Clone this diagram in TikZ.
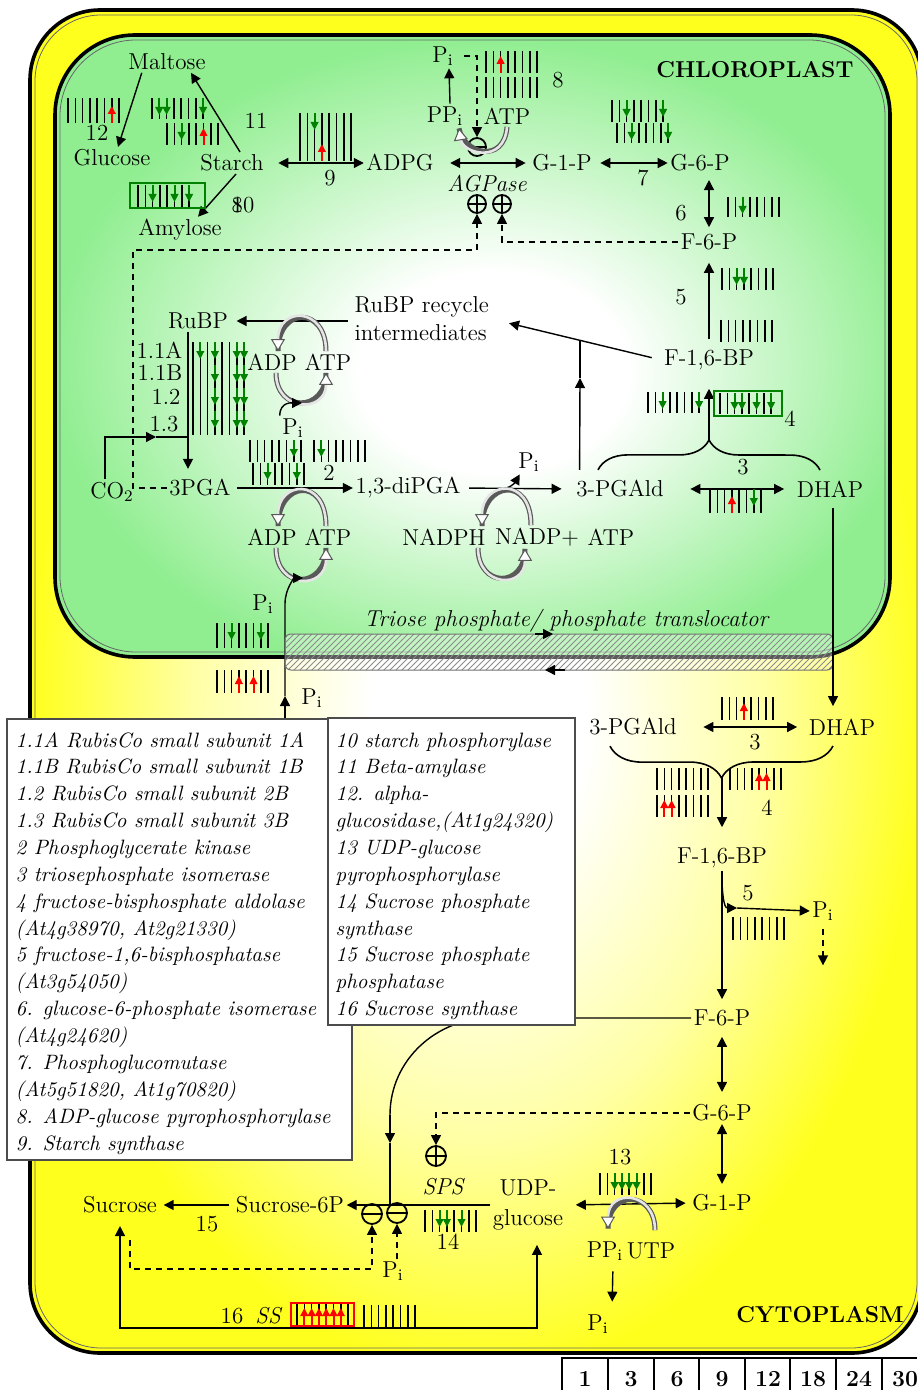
\documentclass[tikz,border=0pt]{standalone}
\usepackage{tikz}
\usetikzlibrary{arrows.meta, decorations.pathreplacing, patterns}

\definecolor{chlgreen}{RGB}{144,238,144}
\definecolor{cytyellow}{RGB}{255,255,30}
\definecolor{upred}{RGB}{255,0,0}
\definecolor{dngreen}{RGB}{0,130,0}

\pgfdeclareradialshading{chlshade}{\pgfpoint{1.5bp}{-2.5bp}}{color(0bp)=(white); color(8bp)=(white); color(17bp)=(chlgreen!50!white); color(26bp)=(chlgreen); color(50bp)=(chlgreen)}
\pgfdeclareradialshading{cytshade}{\pgfpoint{0.2bp}{-1.5bp}}{color(0bp)=(white); color(6bp)=(white); color(16bp)=(cytyellow!40!white); color(25bp)=(cytyellow); color(50bp)=(cytyellow)}

\newcommand{\metfont}{\fontsize{11.5}{14}\selectfont}
\newcommand{\legfont}{\fontsize{10.4}{12}\selectfont\itshape}

% expression bars: x, top y, height, pattern (0 plain, 1 green down, 2 red up)
\newcommand{\exprbars}[4]{%
  \foreach \s [count=\k from 0] in {#4} {
    \draw[barln] ({#1+7.3*\k},{#2}) -- ++(0,#3);
    \ifnum\s=1 \draw[dnarr] ({#1+7.3*\k},{#2}) -- ++(0,17); \fi
    \ifnum\s=2 \draw[uparr] ({#1+7.3*\k},{#2+#3}) -- ++(0,-17); \fi
  }}

\begin{document}
\begin{tikzpicture}[x=0.5pt, y=-0.5pt, line width=0.7pt,
  arr/.style={-{Triangle[length=5pt,width=5pt]}, line width=0.7pt},
  darr/.style={{Triangle[length=5pt,width=5pt]}-{Triangle[length=5pt,width=5pt]}, line width=0.7pt},
  dsh/.style={dash pattern=on 3pt off 2.5pt, line width=0.6pt},
  met/.style={font=\metfont, inner sep=1pt},
  barln/.style={line width=0.75pt},
  dnarr/.style={dngreen, line width=1pt, -{Triangle[length=4pt,width=3.8pt]}},
  uparr/.style={upred, line width=1pt, -{Triangle[length=4pt,width=3.8pt]}},
  tube/.style={line width=1.3pt, draw=gray!20,
    preaction={draw=black!65, line width=2.5pt, arrows=-},
    -{Triangle[length=6pt, width=7pt, fill=white, color=black!65, line width=0.5pt]}},
  plusc/.style={circle, draw, line width=0.9pt, minimum size=9pt, inner sep=0pt,
    path picture={\draw[line width=0.9pt] (path picture bounding box.north) -- (path picture bounding box.south)
      (path picture bounding box.west) -- (path picture bounding box.east);}},
  minusc/.style={circle, draw, line width=0.9pt, minimum size=9pt, inner sep=0pt,
    path picture={\draw[line width=0.9pt] (path picture bounding box.west) -- (path picture bounding box.east);}},
  leg/.style={font=\legfont, inner sep=0pt, anchor=base west},
]
\useasboundingbox (0,0) rectangle (917,1390);
\fill[white] (0,0) rectangle (917,1390);

%% Cell and chloroplast
\shade[shading=cytshade, rounded corners=35pt] (30,10) rectangle (922,1353);
\draw[line width=1.8pt, rounded corners=35pt] (30,10) rectangle (922,1353);
\draw[line width=0.4pt, black!60, rounded corners=33pt] (35,15) rectangle (917,1348);
\shade[shading=chlshade, rounded corners=40pt] (55,35) rectangle (890,657);
\draw[line width=1.8pt, rounded corners=40pt] (55,35) rectangle (890,657);
\draw[line width=0.4pt, black!60, rounded corners=38pt] (60,40) rectangle (885,652);

%% Time points
\draw[line width=0.8pt] (562,1390) -- (562,1358) -- (917,1358);
\foreach \xx in {608,654,699,745,790,836,882} \draw[line width=0.8pt] (\xx,1358) -- (\xx,1390);
\foreach \xx/\tp [count=\c] in {585/1, 631/3, 677/6, 722/9, 768/12, 813/18, 859/24, 905/30}
  \node[met, font=\metfont\bfseries, anchor=north] (tp\c) at (\xx,1369) {\tp};

%% Starch breakdown
\node[met] (maltose) at (167,62) {Maltose};
\node[met] (glucose) at (112,158) {Glucose};
\node[met] (starch) at (232,163) {Starch};
\node[met] (amylose) at (180,230) {Amylose};
\node[met] (lb12) at (97,133) {12};
\node[met] (lb11) at (256,121) {11};
\node[met] (lb10) at (243,205) {\makebox[0pt][l]{8}10};
\node[met] (lb9) at (330,178) {9};
\draw[arr] ([xshift=8pt]maltose.south west) -- ([xshift=3pt]glucose.north);
\draw[arr] ([xshift=4pt]starch.north) -- ([xshift=12pt]maltose.south);
\draw[arr] ([xshift=2pt]starch.south) -- ([xshift=9pt]amylose.north);
\exprbars{68}{98}{25}{0,0,0,0,0,0,2,0}
\exprbars{152}{98}{21}{0,1,1,0,0,0,0,1}
\exprbars{167}{123}{22}{0,0,1,0,0,2,0,0}
\exprbars{138}{185}{22}{0,0,1,0,0,1,0,1}
\draw[dngreen, line width=0.8pt] (130,183) rectangle (205,208);

%% ADPG and AGPase
\node[met] (adpg) at (400,163) {ADPG};
\node[met] (g1p) at (562,163) {G-1-P};
\node[met] (g6p) at (700,163) {G-6-P};
\node[met] (f6p) at (709,242) {F-6-P};
\node[met] (piA) at (443,56) {P\textsubscript{i}};
\node[met] (ppiA) at (445,116) {PP\textsubscript{i}};
\node[met] (atpA) at (507,116) {ATP};
\node[minusc] (inhA) at (477,147) {};
\node[met, font=\metfont\itshape] (agpase) at (487,184) {AGPase};
\node[plusc] (actA) at (477,204) {};
\node[plusc] (actB) at (502,204) {};
\node[met] (lb8) at (558,80) {8};
\node[met] (lb7) at (643,178) {7};
\node[met] (lb6) at (681,213) {6};
\draw[darr, shorten <=6pt] (starch.east) -- (adpg.west);
\exprbars{300}{113}{48}{0,0,1,2,0,0,0,0}
\draw[darr, shorten <=7pt, shorten >=2pt] (adpg.east) -- (g1p.west);
\draw[darr, shorten <=3pt] (g1p.east) -- (g6p.west);
\draw[darr, shorten <=3pt, shorten >=2pt] ([xshift=4.5pt]g6p.south) -- (f6p.north);
\draw[arr] ([xshift=2.5pt]ppiA.north) -- ([xshift=3pt]piA.south);
\draw[dsh, arr, shorten <=4pt] (piA.east) -| (inhA.north);
\draw[tube] (atpA.south) .. controls +(-3,38) and +(4,25) .. ([xshift=7pt]ppiA.south);
\exprbars{486}{51}{22}{0,0,2,0,0,0,0,0}
\exprbars{486}{77}{21}{0,0,0,0,0,0,0,0}
\exprbars{612}{100}{22}{0,0,1,0,0,0,0,1}
\exprbars{617}{123}{20}{0,0,1,0,0,0,0,1}
\exprbars{728}{197}{20}{0,0,1,0,0,0,0,0}
\draw[dsh, arr] (f6p.west) -| (actB.south);
\node[met, font=\metfont\bfseries] (chloro) at (755,70) {CHLOROPLAST};

%% Calvin cycle
\node[met] (rubp) at (198,321) {RuBP};
\node[met, align=left, anchor=west] (rubpri) at (352,319) {RuBP recycle\\intermediates};
\node[met] (f16bp) at (709,360) {F-1,6-BP};
\node[met] (lb5) at (681,297) {5};
\draw[arr, shorten <=4pt, shorten >=5pt] (f16bp.north) -- (f6p.south);
\exprbars{722}{268}{22}{0,0,1,1,0,0,0,0}
\exprbars{721}{320}{22}{0,0,0,0,0,0,0,0}
\draw[arr, shorten <=5pt, shorten >=9pt] (f16bp.west) -- (rubpri.east);
\draw[arr, shorten >=3pt] ([xshift=-2pt]rubpri.west |- rubp.east) -- (rubp.east);
\node[met] (adpR) at (272,362) {ADP};
\node[met] (atpR) at (328,362) {ATP};
\draw[tube] ([xshift=-1pt]atpR.north) .. controls +(0,-45) and +(0,-45) .. ([xshift=3pt]adpR.north);
\draw[tube] ([xshift=2pt]adpR.south) .. controls +(0,40) and +(0,40) .. ([xshift=-1pt]atpR.south);
\node[met] (piR) at (293,428) {P\textsubscript{i}};
\coordinate (tubeR) at (302,403);
\draw[arr] (piR.north west) .. controls +(0,-15) and +(-8,0) .. (tubeR);
\node[met, anchor=east] (e11a) at (185,350) {1.1A};
\node[met, anchor=east] (e11b) at (185,373) {1.1B};
\node[met, anchor=east] (e12) at (183,397) {1.2};
\node[met, anchor=east] (e13) at (181,424) {1.3};
\exprbars{193}{342}{23}{0,1,0,1,0,0,1,1}
\exprbars{193}{365}{23}{0,0,0,1,0,0,1,1}
\exprbars{193}{388}{23}{0,0,0,1,0,0,1,1}
\exprbars{193}{411}{24}{0,0,0,1,0,0,1,1}
\node[met] (co2) at (112,492) {CO\textsubscript{2}};
\node[met] (pga) at (200,488) {3PGA};
\coordinate (cmid) at (156,437);
\coordinate (cj) at (188,437);
\draw[arr] ([xshift=-3.5pt]co2.north) |- (cmid);
\draw (cmid) -- (cj);
\draw[arr, shorten >=4pt] ([xshift=-5pt]rubp.south) -- ([xshift=-6pt]pga.north);
\coordinate (pgaup) at (133,250);
\draw[dsh, arr] (pga.west) -| (pgaup) -| (actA.south);

%% 3PGA to 3-PGAld
\node[met] (dipga) at (408,488) {1,3-diPGA};
\node[met] (lb2) at (329,473) {2};
\draw[arr, shorten <=2pt] (pga.east) -- (dipga.west);
\exprbars{250}{440}{22}{0,0,0,0,0,0,1,0}
\exprbars{314}{440}{22}{0,1,0,0,0,0,0,0}
\exprbars{253}{463}{22}{0,0,1,0,0,0,1,0}
\node[met] (adp2) at (272,537) {ADP};
\node[met] (atp2) at (328,537) {ATP};
\draw[tube] ([xshift=-1pt]atp2.north) .. controls +(0,-50) and +(0,-45) .. ([xshift=3pt]adp2.north);
\draw[tube] ([xshift=2pt]adp2.south) .. controls +(0,42) and +(0,42) .. ([xshift=-1pt]atp2.south);
\node[met] (piL) at (263,604) {P\textsubscript{i}};
\node[met] (piB) at (312,698) {P\textsubscript{i}};
\coordinate (pjb) at (285,718);
\coordinate (pjm) at (285,696);
\coordinate (tube2) at (303,578);
\draw[arr] (pjb) -- (pjm);
\draw[arr] (pjm) -- ++(0,-92) .. controls +(0,-16) and +(-8,0) .. (tube2);
\exprbars{217}{623}{25}{0,0,1,0,0,0,1,0}
\exprbars{217}{670}{23}{0,0,0,2,0,2,0,0}
\node[met] (pi3) at (529,462) {P\textsubscript{i}};
\node[met] (pgald) at (620,489) {3-PGAld};
\draw[arr, shorten <=3pt, shorten >=6pt] (dipga.east) -- (pgald.west);
\coordinate (nj) at (500,489);
\draw[arr] (nj) to[out=0, in=240] ([xshift=2pt]pi3.south west);
\node[met] (nadph) at (444,537) {NADPH};
\node[met] (nadp) at (537,537) {NADP+};
\node[met] (atp3) at (611,537) {ATP};
\draw[tube] ([xshift=-3pt]nadp.north) .. controls +(0,-50) and +(0,-45) .. ([xshift=19pt]nadph.north);
\draw[tube] ([xshift=17pt]nadph.south) .. controls +(0,40) and +(0,40) .. ([xshift=-6pt]nadp.south);

%% Triose phosphates
\node[met] (dhap) at (830,489) {DHAP};
\node[met] (lb3) at (743,467) {3};
\node[met] (lb4) at (790,419) {4};
\draw[darr, shorten <=12pt, shorten >=5pt] (pgald.east) -- (dhap.west);
\exprbars{710}{489}{24}{0,0,0,2,0,0,1,0}
\draw[decorate, decoration={brace, amplitude=15pt}, line width=0.8pt]
  ([xshift=-11pt,yshift=4pt]pgald.north) -- ([xshift=-5pt,yshift=4pt]dhap.north);
\coordinate (btip) at (709,440);
\draw[arr, shorten >=8pt] (btip) -- (f16bp.south);
\exprbars{648}{392}{21}{0,0,1,0,0,0,0,1}
\exprbars{720}{393}{21}{0,0,1,1,0,1,0,1}
\draw[dngreen, line width=0.8pt] (714,391) rectangle (782,416);
\coordinate (rmid) at (580,378);
\coordinate (rj) at (580,341);
\draw[arr] ([xshift=3pt,yshift=4pt]pgald.north west) -- (rmid);
\draw (rmid) -- (rj);

%% Translocator
\node[met, font=\metfont\itshape] (tpt) at (566,621) {Triose phosphate/ phosphate translocator};
\fill[white, opacity=0.35, rounded corners=3pt] (285,634) rectangle (833,670);
\fill[pattern=north east lines, pattern color=black!45, rounded corners=3pt] (285,634) rectangle (833,670);
\draw[black!55, line width=0.5pt, rounded corners=3pt] (285,634) rectangle (833,670);
\draw[arr] (535,634) -- (553,634);
\draw[arr] (565,670) -- (545,670);

%% Cytoplasm: triose to hexose
\node[met] (pgaldC) at (633,727) {3-PGAld};
\node[met] (dhapC) at (842,727) {DHAP};
\node[met] (lb3C) at (755,742) {3};
\node[met] (lb4C) at (767,808) {4};
\draw[arr, shorten <=4pt, shorten >=5pt] ([xshift=1.5pt]dhap.south) -- ([xshift=-4.5pt]dhapC.north);
\draw[darr, shorten <=12pt, shorten >=4.5pt] (pgaldC.east) -- (dhapC.west);
\exprbars{722}{697}{23}{0,0,0,2,0,0,0,0}
\draw[decorate, decoration={brace, amplitude=16pt}, line width=0.8pt]
  ([xshift=-4.5pt,yshift=-4pt]dhapC.south) -- ([xshift=-11.5pt,yshift=-4pt]pgaldC.south);
\coordinate (btipC) at (722,777);
\node[met] (f16bpC) at (722,858) {F-1,6-BP};
\draw[arr, shorten >=9pt] (btipC) -- (f16bpC.north);
\exprbars{657}{768}{22}{0,0,0,0,0,0,0,0}
\exprbars{657}{795}{22}{0,2,2,0,0,0,0,0}
\exprbars{730}{768}{22}{0,0,0,0,2,2,0,0}
\node[met] (f6pC) at (722,1018) {F-6-P};
\draw[arr, shorten >=4pt] (f16bpC.south) -- (f6pC.north);
\node[met] (lb5C) at (748,893) {5};
\node[met] (piC) at (823,911) {P\textsubscript{i}};
\coordinate (bj) at (737,908);
\draw[arr] ([yshift=-3pt]f16bpC.south) to[out=-90, in=180] (bj);
\draw[arr] (bj) -- (piC.west);
\exprbars{733}{917}{23}{0,0,0,0,0,0,0,0}
\draw[dsh, arr, shorten <=3pt] (piC.south) -- ++(0,42);
\node[met] (g6pC) at (722,1113) {G-6-P};
\node[met] (g1pC) at (722,1203) {G-1-P};
\draw[darr, shorten <=4pt, shorten >=5pt] (f6pC.south) -- (g6pC.north);
\draw[darr, shorten >=4pt] (g6pC.south) -- (g1pC.north);

%% Sucrose synthesis
\node[met, align=center, font=\fontsize{11.5}{15}\selectfont] (udpg) at (528,1205) {UDP-\\glucose};
\draw[darr, shorten <=2pt, shorten >=5pt] (g1pC.west) -- (udpg.east);
\node[met] (lb13) at (620,1157) {13};
\exprbars{600}{1173}{22}{0,0,1,1,1,1,0,0}
\node[met] (ppiC) at (605,1251) {PP\textsubscript{i}};
\node[met] (utp) at (651,1251) {UTP};
\draw[tube] ([xshift=2pt,yshift=5pt]utp.north) .. controls +(0,-40) and +(0,-40) .. ([xshift=1.5pt,yshift=5pt]ppiC.north);
\node[met] (piC2) at (598,1324) {P\textsubscript{i}};
\draw[arr, shorten <=4pt, shorten >=5pt] ([xshift=4pt]ppiC.south) -- ([xshift=7pt]piC2.north);
\node[met, font=\metfont\itshape] (sps) at (443,1187) {SPS};
\node[plusc, minimum size=10pt] (actS) at (436,1156) {};
\draw[dsh, arr] (g6pC.west) -| (actS.north);
\node[met] (suc6p) at (290,1205) {Sucrose-6P};
\node[met] (sucrose) at (120,1205) {Sucrose};
\node[met] (lb15) at (207,1224) {15};
\node[met] (lb14) at (448,1242) {14};
\draw[arr] (udpg.west) -- (suc6p.east);
\draw[arr, shorten <=2pt, shorten >=2pt] (suc6p.west) -- (sucrose.east);
\exprbars{425}{1210}{22}{0,0,1,1,0,1,0,0}
\node[minusc, minimum size=10pt] (inhS1) at (372,1214) {};
\node[minusc, minimum size=10pt] (inhS2) at (397,1213) {};
\draw[dsh, arr, shorten <=12pt] ([xshift=5pt]sucrose.south) |- ([yshift=-22pt]inhS1.south) -- (inhS1.south);
\node[met] (piS) at (393,1271) {P\textsubscript{i}};
\draw[dsh, arr] ([xshift=2pt]piS.north) -- (inhS2.south);
\node[met] (lb16) at (232,1316) {16};
\node[met, font=\metfont\itshape] (ss) at (268,1316) {SS};
\exprbars{297}{1304}{21}{0,2,2,2,2,2,2,0}
\draw[upred, line width=0.8pt] (291,1303) rectangle (354,1326);
\exprbars{364}{1305}{22}{0,0,0,0,0,0,0,0}
\coordinate (ssc) at (537,1328);
\draw[darr, shorten <=5pt, shorten >=6pt] (sucrose.south) |- (ssc) -| ([xshift=4.5pt]udpg.south);
\node[met, font=\metfont\bfseries] (cyto) at (820,1315) {CYTOPLASM};

%% F-6-P feeding SPS
\coordinate (fcm) at (390,1115);
\coordinate (fca) at (390,1143);
\coordinate (sj) at (390,1205);
\draw (f6pC.west) -- ++(-200,0) to[out=180, in=90] (fcm);
\draw[arr] (fcm) -- (fca);
\draw (fca) -- (sj);

%% Legend
\draw[fill=white, draw=black!70, line width=0.6pt] (7,719) rectangle (352,1160);
\foreach \ln [count=\i from 0] in {{1.1A RubisCo small subunit 1A}, {1.1B RubisCo small subunit 1B},
  {1.2 RubisCo small subunit 2B}, {1.3 RubisCo small subunit 3B}, {2 Phosphoglycerate kinase},
  {3 triosephosphate isomerase}, {4 fructose-bisphosphate aldolase}, {(At4g38970, At2g21330)},
  {5 fructose-1,6-bisphosphatase}, {(At3g54050)}, {6. glucose-6-phosphate isomerase},
  {(At4g24620)}, {7. Phosphoglucomutase}, {(At5g51820, At1g70820)},
  {8. ADP-glucose pyrophosphorylase}, {9. Starch synthase}}
  \node[leg] (legL\i) at (15,{747+26.87*\i}) {\ln};
\draw[fill=white, draw=black!70, line width=0.6pt] (328,718) rectangle (575,1025);
\foreach \ln [count=\i from 0] in {{10 starch phosphorylase}, {11 Beta-amylase}, {12. alpha-},
  {glucosidase,(At1g24320)}, {13 UDP-glucose}, {pyrophosphorylase}, {14 Sucrose phosphate},
  {synthase}, {15 Sucrose phosphate}, {phosphatase}, {16 Sucrose synthase}}
  \node[leg] (legR\i) at (335,{747+26.87*\i}) {\ln};

\end{tikzpicture}
\end{document}
